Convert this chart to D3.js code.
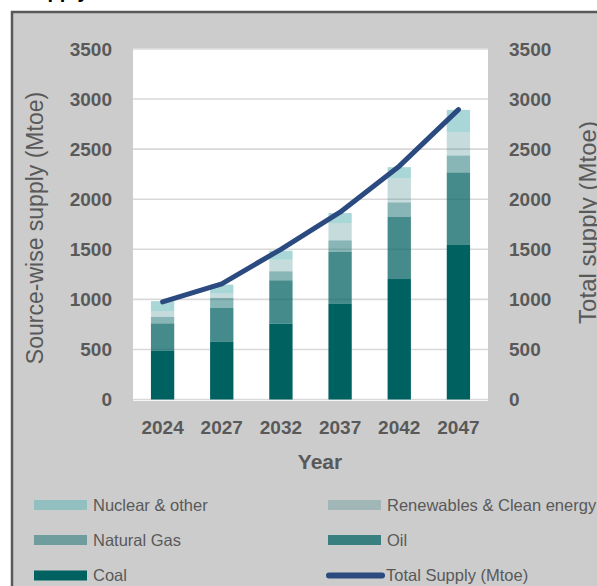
<!DOCTYPE html>
<html>
<head>
<meta charset="utf-8">
<script src="https://cdn.jsdelivr.net/npm/d3@7"></script>
<style>
  html, body { margin: 0; padding: 0; background: #ffffff; }
  svg { display: block; font-family: "Liberation Sans", Arial, sans-serif; }
</style>
</head>
<body>
<svg id="chart" width="597" height="586"></svg>
<script>
// Primary energy supply by source (Mtoe), stacked from the bottom up
const years = ["2024", "2027", "2032", "2037", "2042", "2047"];
const coal = [490, 575, 758, 954, 1203, 1543];
const oil = [270, 339, 432, 519, 622, 724];
const naturalGas = [65, 100, 90, 116, 143, 169];
const renewables = [57, 43, 116, 173, 243, 233];
const nuclear = [100, 90, 90, 100, 109, 223];
const totalSupply = [975, 1155, 1500, 1870, 2330, 2895];
const yTicks = [0, 500, 1000, 1500, 2000, 2500, 3000, 3500];

const seriesNames = ["Coal", "Oil", "Natural Gas", "Renewables & Clean energy", "Nuclear & other"];
const seriesValues = [coal, oil, naturalGas, renewables, nuclear];
const seriesFill = ["#006161", "#0c6666", "#116b6b", "#2c7e7e", "#63b6b6"];
const seriesOpacity = [1, 0.76, 0.5, 0.27, 0.55];

const svg = d3.select("#chart");
const textGrey = "#595959";

// Frame
svg.append("rect")
  .attr("x", 12).attr("y", 12).attr("width", 620).attr("height", 620)
  .attr("fill", "#cccccc").attr("stroke", "#595959").attr("stroke-width", 2.5);

// Heading (sits above the frame)
svg.append("text")
  .attr("x", 22).attr("y", -2)
  .attr("font-size", 20).attr("font-weight", "bold").attr("fill", "#000")
  .text("Supply");

const plot = { left: 133, right: 488, top: 49, bottom: 399.5 };

const x = d3.scaleBand().domain(years)
  .range([plot.left, plot.right]).paddingInner(0.606).paddingOuter(0.303);
const y = d3.scaleLinear().domain([0, 3500]).range([plot.bottom, plot.top]);

// Plot area
svg.append("rect")
  .attr("x", plot.left).attr("y", plot.top - 0.5)
  .attr("width", plot.right - plot.left).attr("height", plot.bottom - plot.top + 2)
  .attr("fill", "#ffffff");

// Horizontal gridlines
svg.append("g").selectAll("line").data(yTicks).join("line")
  .attr("x1", plot.left).attr("x2", plot.right)
  .attr("y1", d => y(d)).attr("y2", d => y(d))
  .attr("stroke", "#d9d9d9").attr("stroke-width", 1.6);

// Stacked bars
const rows = years.map((yr, i) => {
  const r = { year: yr };
  seriesNames.forEach((n, k) => { r[n] = seriesValues[k][i]; });
  return r;
});
const stacked = d3.stack().keys(seriesNames)(rows);

svg.append("g").selectAll("g").data(stacked).join("g")
  .attr("fill", (d, k) => seriesFill[k])
  .attr("fill-opacity", (d, k) => seriesOpacity[k])
  .selectAll("rect").data(d => d).join("rect")
  .attr("x", d => x(d.data.year))
  .attr("width", x.bandwidth())
  .attr("y", d => y(d[1]))
  .attr("height", d => y(d[0]) - y(d[1]));

// Total supply line
const line = d3.line()
  .x((d, i) => x(years[i]) + x.bandwidth() / 2)
  .y(d => y(d));
svg.append("path")
  .datum(totalSupply)
  .attr("d", line)
  .attr("fill", "none").attr("stroke", "#2b4a7f")
  .attr("stroke-width", 5).attr("stroke-linecap", "round").attr("stroke-linejoin", "round");

// Axes
function styleAxis(g) {
  g.select(".domain").remove();
  g.selectAll(".tick line").remove();
  g.selectAll(".tick text")
    .attr("fill", textGrey).attr("font-size", 19).attr("font-weight", "bold")
    .attr("font-family", "Liberation Sans, Arial, sans-serif");
}

svg.append("g")
  .attr("transform", `translate(${plot.left},0)`)
  .call(d3.axisLeft(y).tickValues(yTicks).tickSize(0).tickPadding(21).tickFormat(d3.format("d")))
  .call(styleAxis);

svg.append("g")
  .attr("transform", `translate(${plot.right},0)`)
  .call(d3.axisRight(y).tickValues(yTicks).tickSize(0).tickPadding(21).tickFormat(d3.format("d")))
  .call(styleAxis);

svg.append("g")
  .attr("transform", `translate(0,${plot.bottom})`)
  .call(d3.axisBottom(x).tickSize(0))
  .call(styleAxis)
  .call(g => g.selectAll(".tick text").attr("y", 28).attr("dy", "0.35em"));

// Axis titles
svg.append("text")
  .attr("x", 320).attr("y", 462).attr("dy", "0.35em")
  .attr("text-anchor", "middle")
  .attr("font-size", 21).attr("font-weight", "bold").attr("fill", textGrey)
  .text("Year");

svg.append("text")
  .attr("transform", "translate(43,228) rotate(-90)")
  .attr("text-anchor", "middle")
  .attr("font-size", 23).attr("fill", textGrey)
  .text("Source-wise supply (Mtoe)");

svg.append("text")
  .attr("transform", "translate(596,222.5) rotate(-90)")
  .attr("text-anchor", "middle")
  .attr("font-size", 24).attr("fill", textGrey)
  .text("Total supply (Mtoe)");

// Legend
const legendItems = [
  { name: "Nuclear & other", k: 4, col: 0, row: 0 },
  { name: "Renewables & Clean energy", k: 3, col: 1, row: 0 },
  { name: "Natural Gas", k: 2, col: 0, row: 1 },
  { name: "Oil", k: 1, col: 1, row: 1 },
  { name: "Coal", k: 0, col: 0, row: 2 },
  { name: "Total Supply (Mtoe)", k: -1, col: 1, row: 2 }
];
const colX = [34, 328];
const rowY = [505, 540, 575.5];

const leg = svg.append("g").selectAll("g").data(legendItems).join("g")
  .attr("transform", d => `translate(${colX[d.col]},${rowY[d.row]})`);

leg.filter(d => d.k >= 0).append("rect")
  .attr("x", 0).attr("y", -5).attr("width", 53).attr("height", 10)
  .attr("fill", d => seriesFill[d.k]).attr("fill-opacity", d => seriesOpacity[d.k]);

leg.filter(d => d.k < 0).append("line")
  .attr("x1", 1).attr("x2", 54).attr("y1", 0).attr("y2", 0)
  .attr("stroke", "#2b4a7f").attr("stroke-width", 6).attr("stroke-linecap", "round");

leg.append("text")
  .attr("x", d => d.k < 0 ? 58 : 59).attr("y", 0).attr("dy", "0.35em")
  .attr("font-size", 16.5).attr("fill", textGrey)
  .text(d => d.name);
</script>
</body>
</html>
